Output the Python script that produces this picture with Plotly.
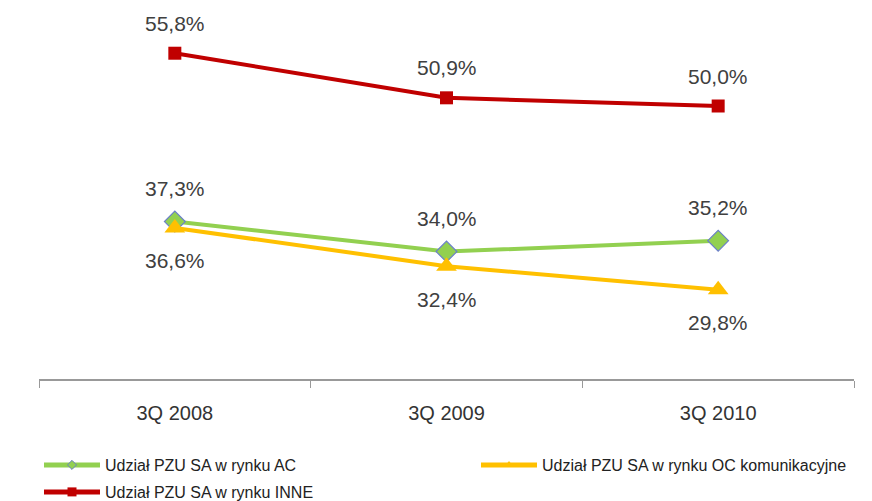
import plotly.graph_objects as go

categories = ["3Q 2008", "3Q 2009", "3Q 2010"]
ac_values = [37.3, 34.0, 35.2]
oc_values = [36.6, 32.4, 29.8]
inne_values = [55.8, 50.9, 50.0]
series_names = ["Udział PZU SA w rynku AC",
                "Udział PZU SA w rynku OC komunikacyjne",
                "Udział PZU SA w rynku INNE"]

FONT = "Liberation Sans, Arial, sans-serif"
GREEN, YELLOW, RED = "#92D050", "#FFC000", "#C00000"

fig = go.Figure()
fig.add_trace(go.Scatter(
    x=categories, y=ac_values, name=series_names[0], mode="lines+markers",
    line=dict(color=GREEN, width=4), showlegend=False,
    marker=dict(symbol="diamond", size=16, color=GREEN,
                line=dict(color="#6A7FC8", width=1.2))))
fig.add_trace(go.Scatter(
    x=categories, y=oc_values, name=series_names[1], mode="lines+markers",
    line=dict(color=YELLOW, width=4), showlegend=False,
    marker=dict(symbol="triangle-up", size=18, color=YELLOW)))
fig.add_trace(go.Scatter(
    x=categories, y=inne_values, name=series_names[2], mode="lines+markers",
    line=dict(color=RED, width=4), showlegend=False,
    marker=dict(symbol="square", size=13, color=RED)))

# legend entries (smaller symbols, as in the reference)
fig.add_trace(go.Scatter(x=[None], y=[None], name=series_names[0], mode="lines+markers",
                         line=dict(color=GREEN, width=5), legend="legend",
                         marker=dict(symbol="diamond", size=7, color=GREEN,
                                     line=dict(color="#6A7FC8", width=1))))
fig.add_trace(go.Scatter(x=[None], y=[None], name=series_names[1], mode="lines+markers",
                         line=dict(color=YELLOW, width=5), legend="legend2",
                         marker=dict(symbol="triangle-up", size=8, color=YELLOW)))
fig.add_trace(go.Scatter(x=[None], y=[None], name=series_names[2], mode="lines+markers",
                         line=dict(color=RED, width=5), legend="legend3",
                         marker=dict(symbol="square", size=9, color=RED)))

def fmt(v):
    return f"{v:.1f}%".replace(".", ",")

for vals, shift in ((ac_values, 33), (oc_values, -33), (inne_values, 30)):
    for c, v in zip(categories, vals):
        fig.add_annotation(x=c, y=v, text=fmt(v), showarrow=False, yshift=shift,
                           font=dict(family=FONT, size=21, color="#404040"))

# page has an 8px body margin; positions below are in figure pixels
OFF = 8
PLOT_L, PLOT_R, PLOT_T, PLOT_B = 39 - OFF, 854 - OFF, 15 - OFF, 379 - OFF
W, H = 872, 501

def lx(screen_px):
    return (screen_px - OFF - PLOT_L) / (PLOT_R - PLOT_L)

def ly(screen_py):
    return (PLOT_B - (screen_py - OFF)) / (PLOT_B - PLOT_T)

leg_common = dict(orientation="h", xanchor="left", yanchor="middle", itemwidth=56,
                  font=dict(family=FONT, size=16, color="#222222"),
                  bgcolor="rgba(0,0,0,0)")

fig.update_layout(
    width=W, height=H,
    margin=dict(l=PLOT_L, r=W - PLOT_R, t=PLOT_T, b=H - PLOT_B, autoexpand=False),
    paper_bgcolor="white", plot_bgcolor="white",
    showlegend=True,
    legend=dict(x=lx(39), y=ly(465), **leg_common),
    legend2=dict(x=lx(476), y=ly(465), **leg_common),
    legend3=dict(x=lx(39), y=ly(492), **leg_common),
    font=dict(family=FONT),
)
fig.update_xaxes(type="category", tickson="boundaries", ticks="outside", ticklen=7,
                 tickcolor="#999999", showline=True, linecolor="#999999", linewidth=1.5,
                 showgrid=False, range=[-0.5, 2.5], ticklabelstandoff=15,
                 tickfont=dict(family=FONT, size=20, color="#333333"))
fig.update_yaxes(range=[20, 60], visible=False, showgrid=False, zeroline=False)

fig.write_html("out.html")
